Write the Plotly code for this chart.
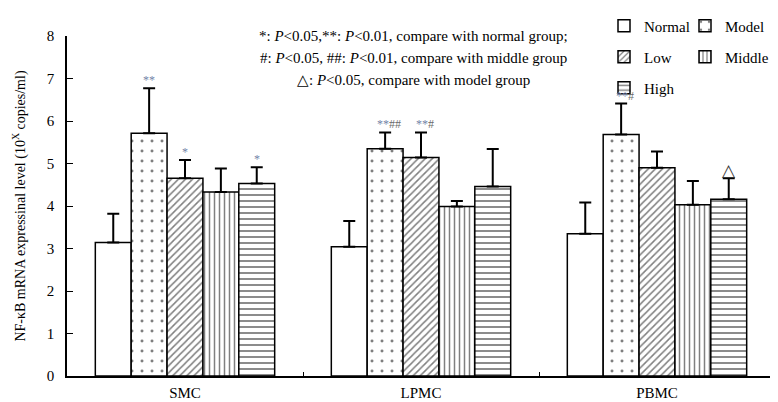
import plotly.graph_objects as go

categories = ["SMC", "LPMC", "PBMC"]
series_names = ["Normal", "Model", "Low", "Middle", "High"]
means = {
    "Normal": [3.14, 3.04, 3.35],
    "Model":  [5.71, 5.35, 5.68],
    "Low":    [4.65, 5.14, 4.90],
    "Middle": [4.33, 3.99, 4.03],
    "High":   [4.53, 4.46, 4.16],
}
err_tops = {
    "Normal": [3.82, 3.65, 4.08],
    "Model":  [6.77, 5.73, 6.41],
    "Low":    [5.08, 5.73, 5.28],
    "Middle": [4.88, 4.12, 4.59],
    "High":   [4.91, 5.34, 4.65],
}
# significance marks: (stars, hashes, triangle)
marks = {
    ("SMC", "Model"): ("**", "", ""),
    ("SMC", "Low"): ("*", "", ""),
    ("SMC", "High"): ("*", "", ""),
    ("LPMC", "Model"): ("**", "##", ""),
    ("LPMC", "Low"): ("**", "#", ""),
    ("PBMC", "Model"): ("**", "#", ""),
    ("PBMC", "High"): ("", "", "△"),
}
patterns = {"Normal": "", "Model": ".", "Low": "/", "Middle": "|", "High": "-"}
pat_size = {"Normal": 8, "Model": 10, "Low": 5, "Middle": 5, "High": 6}
pat_sol = {"Normal": 0.1, "Model": 0.07, "Low": 0.3, "Middle": 0.3, "High": 0.3}
# legend slot: (legend id, left x px, row centre y px)
legend_slot = {
    "Normal": ("legend", 596, 18),
    "Model": ("legend2", 677, 18),
    "Low": ("legend3", 596, 49),
    "Middle": ("legend4", 677, 49),
    "High": ("legend5", 596, 80),
}

FONT = "Liberation Serif"
W, H = 778, 402
ML, MR, MT, MB = 59, 11, 28, 34

fig = go.Figure()
for s in series_names:
    m = means[s]
    plus = [t - v for t, v in zip(err_tops[s], m)]
    fig.add_trace(go.Bar(
        name=s, x=categories, y=m, showlegend=True,
        marker=dict(color="white", line=dict(color="black", width=1.5),
                    pattern=dict(shape=patterns[s], fgcolor="black", bgcolor="white",
                                 size=pat_size[s], solidity=pat_sol[s], fillmode="overlay")),
        error_y=dict(type="data", symmetric=False, array=plus, arrayminus=[0] * 3,
                     color="black", thickness=2, width=6),
        legend=legend_slot[s][0],
    ))

# bar geometry for annotation offsets
plot_w = W - ML - MR
group_w = plot_w / len(categories)
bargap = 0.24
bar_w = group_w * (1 - bargap) / len(series_names)

for (cat, s), (st, hs, tri) in marks.items():
    i = series_names.index(s)
    ci = categories.index(cat)
    top = err_tops[s][ci]
    shift = (i - (len(series_names) - 1) / 2) * bar_w
    if tri:
        fig.add_annotation(x=cat, y=top, xshift=shift, yshift=-4, text=tri, showarrow=False,
                           yanchor="bottom", font=dict(family="DejaVu Sans", size=17, color="#333"))
    else:
        txt = ""
        if st:
            txt += f"<span style='color:#7382a8'>{st}</span>"
        if hs:
            txt += f"<span style='color:#6a6a6a'>{hs}</span>"
        fig.add_annotation(x=cat, y=top, xshift=shift + (4 if hs else 0), yshift=-1, text=txt,
                           showarrow=False, yanchor="bottom",
                           font=dict(family=FONT, size=12, color="#666"))

notes = [
    "*: <i>P</i><0.05,**: <i>P</i><0.01, compare with normal group;",
    "#: <i>P</i><0.05, ##: <i>P</i><0.01, compare with middle group",
    "△: <i>P</i><0.05, compare with model group",
]
note_px = [28, 50, 72]
ph = H - MT - MB
for t, py in zip(notes, note_px):
    fig.add_annotation(xref="paper", yref="paper", x=(405 - ML) / plot_w,
                       y=(H - MB - py) / ph, text=t, showarrow=False,
                       xanchor="center", yanchor="middle",
                       font=dict(family=FONT, size=15, color="black"))

legends = {}
for s in series_names:
    lid, lx, ly = legend_slot[s]
    legends[lid] = dict(orientation="v", xanchor="left", yanchor="middle", xref="container",
                        yref="container", x=lx / W, y=1 - ly / H, bgcolor="rgba(0,0,0,0)",
                        font=dict(family=FONT, size=15, color="black"), itemwidth=30,
                        visible=True)

fig.update_layout(
    width=W, height=H, showlegend=True,
    margin=dict(l=ML, r=MR, t=MT, b=MB, autoexpand=False),
    paper_bgcolor="white", plot_bgcolor="white",
    barmode="group", bargap=bargap, bargroupgap=0,
    font=dict(family=FONT, size=15, color="black"),
    xaxis=dict(range=[-0.5, 2.5], showline=True, linecolor="black", linewidth=1.5,
               ticks="inside", ticklen=4, tickson="boundaries", tickcolor="black",
               tickfont=dict(family=FONT, size=15), showgrid=False, zeroline=False,
               automargin=False, ticklabelstandoff=2),
    yaxis=dict(range=[0, 8], dtick=1, showline=True, linecolor="black", linewidth=1.5,
               ticks="inside", ticklen=6, tickcolor="black", showgrid=False, zeroline=False,
               tickfont=dict(family=FONT, size=15), automargin=False, ticklabelstandoff=8,
               title=dict(text="NF-κB mRNA expressinal level (10<sup>X</sup> copies/ml)",
                          font=dict(family=FONT, size=14), standoff=18)),
    **legends,
)
fig.write_html("out.html")
